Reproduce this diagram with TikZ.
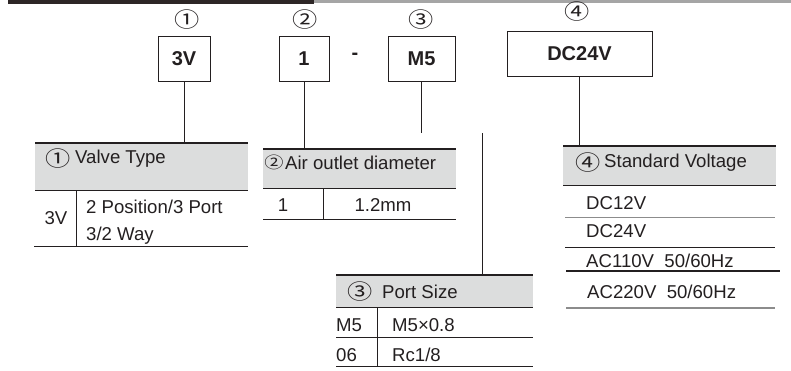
\documentclass[tikz,border=0pt]{standalone}
\usepackage{fontspec}
\setmainfont{Liberation Sans}
\newfontfamily\circfont[FakeStretch=1.2]{Noto Sans CJK SC}
\usepackage{xcolor}
\definecolor{inkgray}{RGB}{35,31,32}
\definecolor{headgray}{RGB}{220,221,221}
\definecolor{bardark}{RGB}{45,38,38}
\definecolor{barlight}{RGB}{165,165,165}
\definecolor{rulegray}{RGB}{140,140,140}

\begin{document}
\begin{tikzpicture}[x=1pt, y=-1pt,
    codebox/.style={draw=inkgray, line width=0.8pt, inner sep=0pt, text=inkgray,
      font=\fontsize{20}{22}\selectfont\bfseries},
    circnum/.style={text=inkgray, inner sep=0pt, font=\fontsize{21}{23}\selectfont\circfont},
    headbox/.style={fill=headgray, inner sep=0pt, anchor=north west},
    headtext/.style={text=inkgray, inner sep=0pt, anchor=west, font=\fontsize{18.6}{20}\selectfont},
    celltext/.style={text=inkgray, inner sep=0pt, font=\fontsize{18.6}{20}\selectfont},
    thickrule/.style={draw=inkgray, line width=1.3pt},
    thinrule/.style={draw=inkgray, line width=0.8pt},
    link/.style={draw=inkgray, line width=0.8pt}]
    \useasboundingbox (0,0) rectangle (791,370);

    % Top bar
    \fill[bardark] (8,0) rectangle (314,3.5);
    \fill[barlight] (314,0) rectangle (791,3);

    % Code boxes
    \node[codebox, minimum width=52pt, minimum height=45pt] (vbox) at (184,58.5) {3V};
    \node[codebox, minimum width=50pt, minimum height=45pt] (dbox) at (304,58.5) {1};
    \node[codebox, minimum width=67pt, minimum height=45pt] (pbox) at (421.5,58.5) {M5};
    \node[codebox, minimum width=145pt, minimum height=45pt] (ubox) at (579.5,53.5) {DC24V};
    \node[text=inkgray, font=\fontsize{20}{22}\selectfont\bfseries] (dash) at (355,56) {-};

    % Circled numbers
    \node[circnum] (n1) at (187,20) {①};
    \node[circnum] (n2) at (305.5,20) {②};
    \node[circnum] (n3) at (421,20) {③};
    \node[circnum] (n4) at (577,12) {④};

    % Valve type table
    \node[headbox, minimum width=213pt, minimum height=47pt] (vt) at (35,143) {};
    \draw[thickrule] (vt.north west) -- (vt.north east);
    \draw[thickrule] (vt.south west) -- (vt.south east);
    \node[circnum] (vtnum) at (58,159) {①};
    \node[headtext] (vtlabel) at (75,159) {Valve Type};
    \node[celltext] (vtkey) at (56,218) {3V};
    \node[celltext, anchor=west] (vtval1) at (86,207) {2 Position/3 Port};
    \node[celltext, anchor=west] (vtval2) at (86,236) {3/2 Way};
    \draw[thinrule] (76,190) -- (76,246);
    \draw[thinrule] (34,246) -- (248,246);

    % Air outlet diameter table
    \node[headbox, minimum width=193pt, minimum height=39pt] (ad) at (263,149) {};
    \draw[thickrule] (ad.north west) -- (ad.north east);
    \draw[thickrule] (ad.south west) -- (ad.south east);
    \node[circnum, font=\fontsize{16}{18}\selectfont\circfont] (adnum) at (274,162) {②};
    \node[headtext] (adlabel) at (285,163) {Air outlet diameter};
    \node[celltext] (adkey) at (283,205) {1};
    \node[celltext] (adval) at (383,205) {1.2mm};
    \draw[thinrule] (323,188) -- (323,219);
    \draw[thinrule] (263,219) -- (456,219);

    % Port size table
    \node[headbox, minimum width=197pt, minimum height=32pt] (ps) at (336,275) {};
    \draw[thickrule] (ps.north west) -- (ps.north east);
    \draw[thickrule] (ps.south west) -- (ps.south east);
    \node[circnum] (psnum) at (360,292) {③};
    \node[headtext] (pslabel) at (382,292) {Port Size};
    \node[celltext, anchor=west] (pskey1) at (336,325) {M5};
    \node[celltext, anchor=west] (psval1) at (392,325) {M5×0.8};
    \node[celltext, anchor=west] (pskey2) at (336,355) {06};
    \node[celltext, anchor=west] (psval2) at (392,355) {Rc1/8};
    \draw[thinrule] (377,307) -- (377,366);
    \draw[thinrule] (336,337) -- (533,337);
    \draw[thinrule] (336,366) -- (533,366);

    % Standard voltage table
    \node[headbox, minimum width=213pt, minimum height=39pt] (sv) at (563,146) {};
    \draw[thickrule] (sv.north west) -- (sv.north east);
    \draw[thickrule] (sv.south west) -- (sv.south east);
    \node[circnum] (svnum) at (588,163) {④};
    \node[headtext] (svlabel) at (604,163) {Standard Voltage};
    \node[celltext, anchor=west] (sv1) at (586,203) {DC12V};
    \node[celltext, anchor=west] (sv2) at (586,231) {DC24V};
    \node[celltext, anchor=west] (sv3) at (586,261) {AC110V\ \ 50/60Hz};
    \node[celltext, anchor=west] (sv4) at (587,292) {AC220V\ \ 50/60Hz};
    \draw[draw=rulegray, line width=1pt] (565,217) -- (775,217);
    \draw[thinrule] (565,247) -- (775,247);
    \draw[thickrule] (566,271) -- (780,271);
    \draw[draw=rulegray, line width=1.3pt] (566,308) -- (775,308);

    % Connectors
    \draw[link] (vbox.south) -- (vbox.south |- vt.north);
    \draw[link] (dbox.south) -- (dbox.south |- ad.north);
    \coordinate (pend) at (421,133);
    \draw[link] (pbox.south) -- (pbox.south |- pend);
    \coordinate (pstart) at (482,133);
    \draw[link] (pstart) -- (pstart |- ps.north);
    \draw[link] (ubox.south) -- (ubox.south |- sv.north);
\end{tikzpicture}
\end{document}
